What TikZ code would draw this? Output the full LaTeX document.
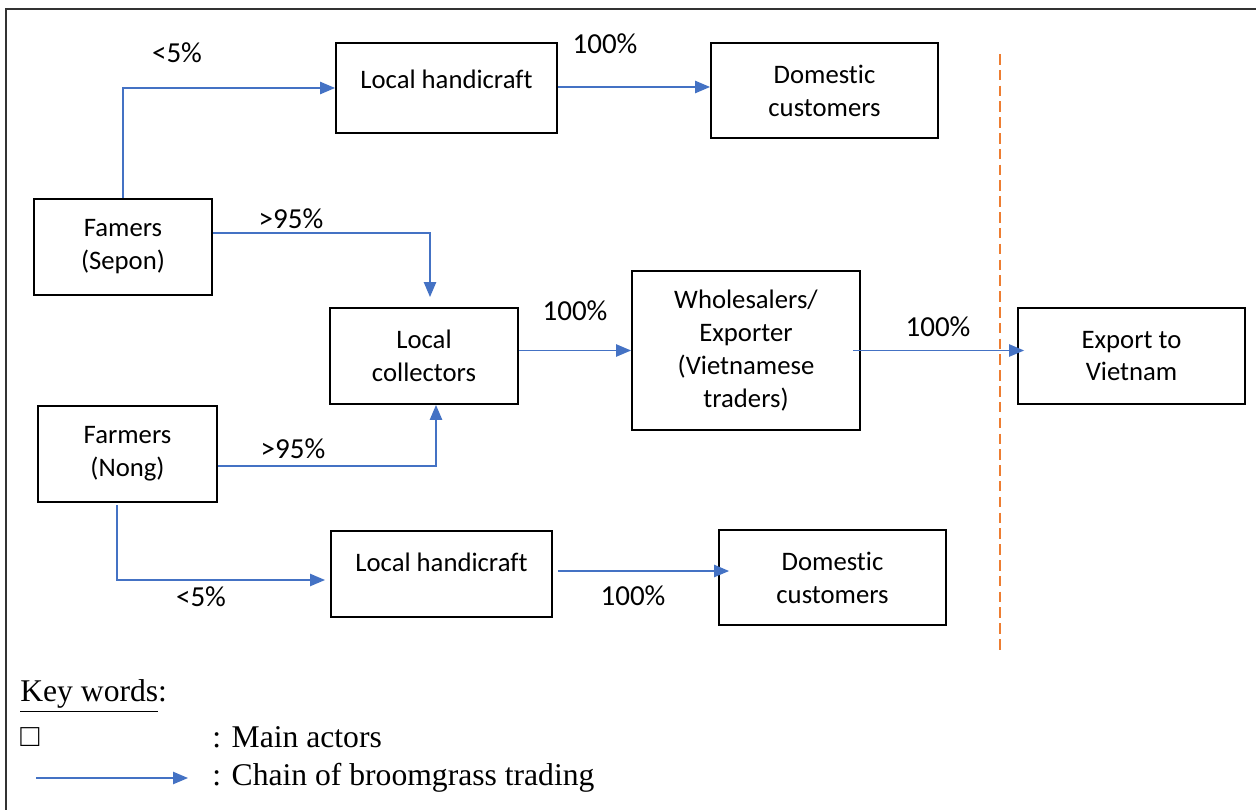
\documentclass[tikz,border=0pt]{standalone}
\usepackage{fontspec}
\setmainfont{Liberation Serif}
\newfontfamily\boxfont[Ligatures={NoCommon}]{Carlito}
\usetikzlibrary{arrows.meta,calc}
\definecolor{chainblue}{HTML}{4472C4}
\definecolor{borderorange}{HTML}{ED7D31}
\begin{document}
\begin{tikzpicture}[x=0.02cm,y=-0.02cm,
  actor/.style={draw=black,line width=1.1pt,inner sep=0pt,align=center,
    font=\boxfont\fontsize{15.2}{18.7}\selectfont},
  txt/.style={inner sep=0pt,align=center,font=\boxfont\fontsize{15.2}{18.7}\selectfont},
  pct/.style={inner sep=0pt,font=\boxfont\fontsize{16.5}{18}\selectfont},
  arr/.style={draw=chainblue,line width=0.8pt,-{Triangle[length=8.5pt,width=7pt]}},
  legend/.style={inner sep=0pt,anchor=west,font=\fontsize{18}{21}\selectfont}]
\useasboundingbox (0,0) rectangle (1256,810);
\begin{scope}
\clip (0,0) rectangle (1256,810);
\draw[line width=0.6pt,draw=black!80] (6,9) rectangle (1270,830);
\end{scope}
% boxes
\node[actor,minimum width=4.42cm,minimum height=1.80cm] (lh1) at (446.5,88) {};
\node[txt] (lh1t) at (446.5,79) {Local handicraft};
\node[actor,minimum width=4.54cm,minimum height=1.90cm] (dc1) at (824.5,90.5) {Domestic\\customers};
\node[actor,minimum width=3.56cm,minimum height=1.92cm] (sepon) at (123,247) {Famers\\(Sepon)};
\node[actor,minimum width=3.76cm,minimum height=1.92cm] (coll) at (424,356) {Local\\collectors};
\node[actor,minimum width=4.56cm,minimum height=3.18cm] (whole) at (746,350.5) {Wholesalers/\\Exporter\\(Vietnamese\\traders)};
\node[actor,minimum width=4.54cm,minimum height=1.92cm] (export) at (1131.5,356) {Export to\\Vietnam};
\node[actor,minimum width=3.58cm,minimum height=1.92cm] (nong) at (127.5,454) {Farmers\\(Nong)};
\node[actor,minimum width=4.42cm,minimum height=1.72cm] (lh2) at (441.5,574) {};
\node[txt] (lh2t) at (441.5,562) {Local handicraft};
\node[actor,minimum width=4.54cm,minimum height=1.90cm] (dc2) at (832.5,577.5) {Domestic\\customers};
% border line
\coordinate (bt) at (1000,54);
\coordinate (bb) at (1000,652);
\draw[borderorange,line width=0.8pt,dash pattern=on 6pt off 3pt] (bt) -- (bb);
% connectors
\coordinate (s1) at (430,233);
\coordinate (n1) at (436,466);
\coordinate (n2) at (117,505);
\coordinate (n3) at (117,580);
\coordinate (n4) at (325,580);
\draw[arr] (sepon.north) |- (lh1.west);
\draw[arr] (lh1.east |- 0,87) -- (dc1.west |- 0,87);
\draw[arr,shorten >=0.2cm] (sepon.east |- s1) -- (s1) -- (s1 |- coll.north);
\draw[arr] (coll.east |- whole.west) -- (whole.west);
\draw[arr] ([xshift=-0.16cm]whole.east) -- ([xshift=0.14cm]export.west |- whole.east);
\draw[arr] (nong.east |- n1) -- (n1) -- (n1 |- coll.south);
\draw[arr] (n2) -- (n3) -- (n4);
\draw[arr] ([xshift=0.10cm]lh2.east |- 0,571) -- ([xshift=0.22cm]dc2.west |- 0,571);
% percentages
\node[pct] (p1) at (177,53) {<5\%};
\node[pct] (p2) at (605,44) {100\%};
\node[pct] (p3) at (291,219) {>95\%};
\node[pct] (p4) at (575,311) {100\%};
\node[pct] (p5) at (938,327) {100\%};
\node[pct] (p6) at (293,449) {>95\%};
\node[pct] (p7) at (201,597) {<5\%};
\node[pct] (p8) at (633,596) {100\%};
% legend
\node[legend] (kw) at (20,696) {\underline{Key words}:};
\node[legend] (sq) at (20,737) {□};
\node[legend] (ma) at (212,737) {: Main actors};
\coordinate (la1) at (36,778);
\coordinate (la2) at (188,778);
\draw[arr] (la1) -- (la2);
\node[legend] (ct) at (212,778) {: Chain of broomgrass trading};
\end{tikzpicture}
\end{document}
